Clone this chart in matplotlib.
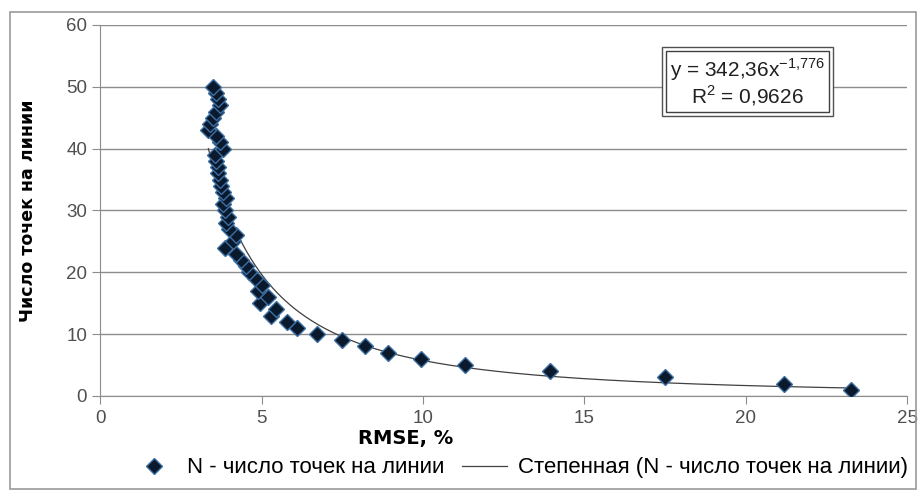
import matplotlib.pyplot as plt
import numpy as np
from matplotlib.patches import Rectangle

plt.rcParams['font.family'] = ['Liberation Sans', 'DejaVu Sans']

# N - number of points on the line, and RMSE (%)
n_points = [1, 2, 3, 4, 5, 6, 7, 8, 9, 10,
            11, 12, 13, 14, 15, 16, 17, 18, 19, 20,
            21, 22, 23, 24, 25, 26, 27, 28, 29, 30,
            31, 32, 33, 34, 35, 36, 37, 38, 39, 40,
            41, 42, 43, 44, 45, 46, 47, 48, 49, 50]
rmse = [23.25, 21.2, 17.5, 13.95, 11.3, 9.95, 8.9, 8.2, 7.5, 6.7,
        6.1, 5.8, 5.3, 5.45, 4.95, 5.2, 4.9, 5.0, 4.8, 4.6,
        4.5, 4.35, 4.2, 3.85, 4.1, 4.2, 4.0, 3.9, 3.95, 3.85,
        3.8, 3.9, 3.8, 3.75, 3.7, 3.65, 3.65, 3.6, 3.55, 3.8,
        3.7, 3.6, 3.35, 3.4, 3.5, 3.6, 3.7, 3.65, 3.6, 3.5]

coef_a = 342.36
coef_b = -1.776

fig = plt.figure(figsize=(9.2, 4.9), dpi=100)
ax = fig.add_axes([0.109, 0.192, 0.877, 0.757])

xs = np.linspace(min(rmse), max(rmse), 300)
ax.plot(xs, coef_a * xs ** coef_b, color='#404040', lw=0.9, zorder=2,
        label='Степенная (N - число точек на линии)')
ax.plot(rmse, n_points, ls='none', marker='D', ms=8, mfc='#0a1a2c',
        mec='#3c6fa3', mew=1.0, zorder=3, label='N - число точек на линии')

ax.set_xlim(0, 25)
ax.set_ylim(0, 60)
ax.set_xticks(range(0, 26, 5))
ax.set_yticks(range(0, 61, 10))
ax.grid(axis='y', color='#8c8c8c', lw=1.0)
ax.set_axisbelow(True)
for s in ['top', 'right']:
    ax.spines[s].set_visible(False)
for s in ['left', 'bottom']:
    ax.spines[s].set_color('#8c8c8c')
ax.tick_params(colors='#8c8c8c', labelcolor='#505050', labelsize=13.5, length=6)
ax.tick_params(axis='x', pad=4)

ax.set_xlabel('RMSE, %', fontsize=14, fontweight='bold', family=['DejaVu Sans'])
ax.xaxis.set_label_coords(0.378, -0.09)
ax.set_ylabel('Число точек на линии', fontsize=12.5, fontweight='bold', family=['DejaVu Sans'])
ax.yaxis.set_label_coords(-0.078, 0.5)

eq = "y = 342,36x$^{\\mathregular{-1{,}776}}$\nR$^{\\mathregular{2}}$ = 0,9626"
# inner frame
ax.text(0.802, 0.846, eq, transform=ax.transAxes, ha='center', va='center',
        fontsize=15, color='#202020', linespacing=1.0, zorder=6,
        bbox=dict(boxstyle='square,pad=0.2', fc='white', ec='#404040', lw=1.0))
# outer frame of the double border
ax.text(0.802, 0.846, eq, transform=ax.transAxes, ha='center', va='center',
        fontsize=15, color='none', linespacing=1.0, zorder=5,
        bbox=dict(boxstyle='square,pad=0.38', fc='white', ec='#505050', lw=1.0))

handles, labels = ax.get_legend_handles_labels()
fig.legend(handles[::-1], labels[::-1], loc='center', bbox_to_anchor=(0.565, 0.045),
           ncol=2, frameon=False, fontsize=16, handlelength=2.0,
           columnspacing=0.8, handletextpad=0.5)

fig.patches.append(Rectangle((0.011, 0.003), 0.985, 0.972, transform=fig.transFigure,
                             fill=False, ec='#9a9a9a', lw=1.2))

fig.savefig('out.png', dpi=100)
